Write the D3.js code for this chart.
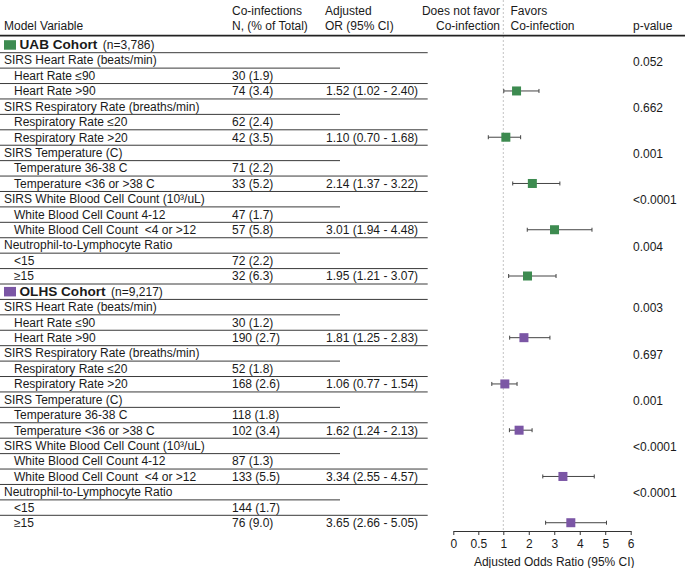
<!DOCTYPE html>
<html>
<head>
<meta charset="utf-8">
<script src="https://cdn.jsdelivr.net/npm/d3@7"></script>
<style>
  html, body { margin: 0; padding: 0; background: #fff; }
  svg { display: block; font-family: "Liberation Sans", Arial, Helvetica, sans-serif; }
  text { fill: #1a1a1a; font-size: 12px; }
</style>
</head>
<body>
<svg id="chart" width="685" height="568"></svg>
<script>
// ---------- data ----------
const cohorts = ["UAB Cohort", "OLHS Cohort"];
const cohortN = ["(n=3,786)", "(n=9,217)"];
const cohortColors = ["#3d8b50", "#7b56a5"];
const groups = [
  "SIRS Heart Rate (beats/min)",
  "SIRS Respiratory Rate (breaths/min)",
  "SIRS Temperature (C)",
  "SIRS White Blood Cell Count (10\u00B3/uL)",
  "Neutrophil-to-Lymphocyte Ratio"
];
const refLevels = ["Heart Rate \u226490", "Respiratory Rate \u226420", "Temperature 36-38 C", "White Blood Cell Count 4-12", "<15"];
const riskLevels = ["Heart Rate >90", "Respiratory Rate >20", "Temperature <36 or >38 C", "White Blood Cell Count  <4 or >12", "\u226515"];

const uabRefN  = ["30 (1.9)", "62 (2.4)", "71 (2.2)", "47 (1.7)", "72 (2.2)"];
const uabRiskN = ["74 (3.4)", "42 (3.5)", "33 (5.2)", "57 (5.8)", "32 (6.3)"];
const olhsRefN  = ["30 (1.2)", "52 (1.8)", "118 (1.8)", "87 (1.3)", "144 (1.7)"];
const olhsRiskN = ["190 (2.7)", "168 (2.6)", "102 (3.4)", "133 (5.5)", "76 (9.0)"];

const uabOR = [1.52, 1.10, 2.14, 3.01, 1.95];
const uabLo = [1.02, 0.70, 1.37, 1.94, 1.21];
const uabHi = [2.40, 1.68, 3.22, 4.48, 3.07];
const olhsOR = [1.81, 1.06, 1.62, 3.34, 3.65];
const olhsLo = [1.25, 0.77, 1.24, 2.55, 2.66];
const olhsHi = [2.83, 1.54, 2.13, 4.57, 5.05];

const uabP  = ["0.052", "0.662", "0.001", "<0.0001", "0.004"];
const olhsP = ["0.003", "0.697", "0.001", "<0.0001", "<0.0001"];

const axisTicks = [0, 0.5, 1, 2, 3, 4, 5, 6];

// ---------- build rows ----------
const cohortData = [
  {refN: uabRefN, riskN: uabRiskN, or: uabOR, lo: uabLo, hi: uabHi, p: uabP},
  {refN: olhsRefN, riskN: olhsRiskN, or: olhsOR, lo: olhsLo, hi: olhsHi, p: olhsP}
];
const rows = [];
cohorts.forEach((c, ci) => {
  const d = cohortData[ci];
  rows.push({type: "cohort", label: c, n: cohortN[ci], ci});
  groups.forEach((g, gi) => {
    rows.push({type: "group", label: g, p: d.p[gi], ci});
    rows.push({type: "level", label: refLevels[gi], count: d.refN[gi], ci});
    rows.push({type: "level", label: riskLevels[gi], count: d.riskN[gi], ci,
               or: d.or[gi], lo: d.lo[gi], hi: d.hi[gi]});
  });
});

// ---------- layout ----------
const svg = d3.select("#chart");
const rowH = 15.42, firstRowY = 44.7;
const y = i => firstRowY + i * rowH;
const colX = {label: 4, indent: 14, count: 232, or: 326, p: 633};
const tableRight = 427.7, groupLineRight = 340;
const axisY = 531;
const x = d3.scaleLinear().domain([0, 1, 6]).range([453.3, 503.3, 630.7]);
const fmt = d3.format(".2f");

// header
const hdr = svg.append("g");
hdr.append("text").attr("x", colX.label).attr("y", 29.5).text("Model Variable");
hdr.append("text").attr("x", colX.count).attr("y", 15).text("Co-infections");
hdr.append("text").attr("x", colX.count).attr("y", 29.5).text("N, (% of Total)");
hdr.append("text").attr("x", colX.or - 1).attr("y", 15).text("Adjusted");
hdr.append("text").attr("x", colX.or - 1).attr("y", 29.5).text("OR (95% CI)");
hdr.append("text").attr("x", 500).attr("y", 15).attr("text-anchor", "end").text("Does not favor");
hdr.append("text").attr("x", 500).attr("y", 29.5).attr("text-anchor", "end").text("Co-infection");
hdr.append("text").attr("x", 510.5).attr("y", 15).text("Favors");
hdr.append("text").attr("x", 510.5).attr("y", 29.5).text("Co-infection");
hdr.append("text").attr("x", colX.p).attr("y", 29.5).text("p-value");

// reference dashed line
svg.append("line")
  .attr("x1", x(1)).attr("x2", x(1)).attr("y1", 0).attr("y2", axisY)
  .attr("stroke", "#c4c4c4").attr("stroke-width", 1).attr("stroke-dasharray", "2,2");

// header rule
svg.append("line").attr("x1", 0).attr("x2", 685).attr("y1", 35.6).attr("y2", 35.6)
  .attr("stroke", "#222").attr("stroke-width", 1.6);

// rows
const rg = svg.append("g").selectAll("g").data(rows).join("g")
  .attr("transform", (d, i) => `translate(0,${y(i)})`);

// row rules
rg.filter((d, i) => i < rows.length - 1).append("line")
  .attr("x1", 0).attr("y1", 8).attr("y2", 8)
  .attr("x2", d => d.type === "group" ? groupLineRight : tableRight)
  .attr("stroke", "#3a3a3a").attr("stroke-width", 1);

// cohort rows
const cr = rg.filter(d => d.type === "cohort");
cr.append("rect").attr("x", 4).attr("y", -4.5).attr("width", 12).attr("height", 9.5)
  .attr("fill", d => cohortColors[d.ci]);
cr.each(function(d) {
  const g = d3.select(this);
  const b = g.append("text").attr("x", 19.5).attr("y", 4.6)
    .attr("font-weight", "bold").style("font-size", "13.6px").text(d.label);
  const w = b.node().getComputedTextLength();
  g.append("text").attr("x", 19.5 + w + 5.5).attr("y", 4.3).text(d.n);
});

// group rows
const gr = rg.filter(d => d.type === "group");
gr.append("text").attr("x", colX.label).attr("y", 4.3).text(d => d.label);
gr.append("text").attr("x", colX.p).attr("y", 5.5).text(d => d.p);

// level rows
const lr = rg.filter(d => d.type === "level");
lr.append("text").attr("x", colX.indent).attr("y", 4.3).text(d => d.label).attr("xml:space", "preserve");
lr.append("text").attr("x", colX.count).attr("y", 4.3).text(d => d.count);

const orRows = lr.filter(d => d.or !== undefined);
orRows.append("text").attr("x", colX.or).attr("y", 4.3)
  .text(d => `${fmt(d.or)} (${fmt(d.lo)} - ${fmt(d.hi)})`);

// forest marks
orRows.append("line").attr("x1", d => x(d.lo)).attr("x2", d => x(d.hi)).attr("y1", 0).attr("y2", 0)
  .attr("stroke", "#444").attr("stroke-width", 1);
orRows.append("line").attr("x1", d => x(d.lo)).attr("x2", d => x(d.lo)).attr("y1", -2).attr("y2", 2)
  .attr("stroke", "#444").attr("stroke-width", 1);
orRows.append("line").attr("x1", d => x(d.hi)).attr("x2", d => x(d.hi)).attr("y1", -2).attr("y2", 2)
  .attr("stroke", "#444").attr("stroke-width", 1);
orRows.append("rect").attr("x", d => x(d.or) - 4.5).attr("y", -4.5).attr("width", 9).attr("height", 9)
  .attr("fill", d => cohortColors[d.ci]);

// axis
const axis = svg.append("g").attr("transform", `translate(0,${axisY})`)
  .call(d3.axisBottom(x).tickValues(axisTicks).tickSize(4).tickSizeOuter(0).tickFormat(d3.format("~g")));
axis.select(".domain").attr("stroke", "#333");
axis.selectAll(".tick line").attr("stroke", "#333");
axis.selectAll(".tick text").attr("font-size", "12px").attr("font-family", null).attr("fill", "#1a1a1a").attr("dy", "0.85em");
svg.append("text").attr("x", x(3)).attr("y", 566).attr("text-anchor", "middle").text("Adjusted Odds Ratio (95% CI)");
</script>
</body>
</html>
